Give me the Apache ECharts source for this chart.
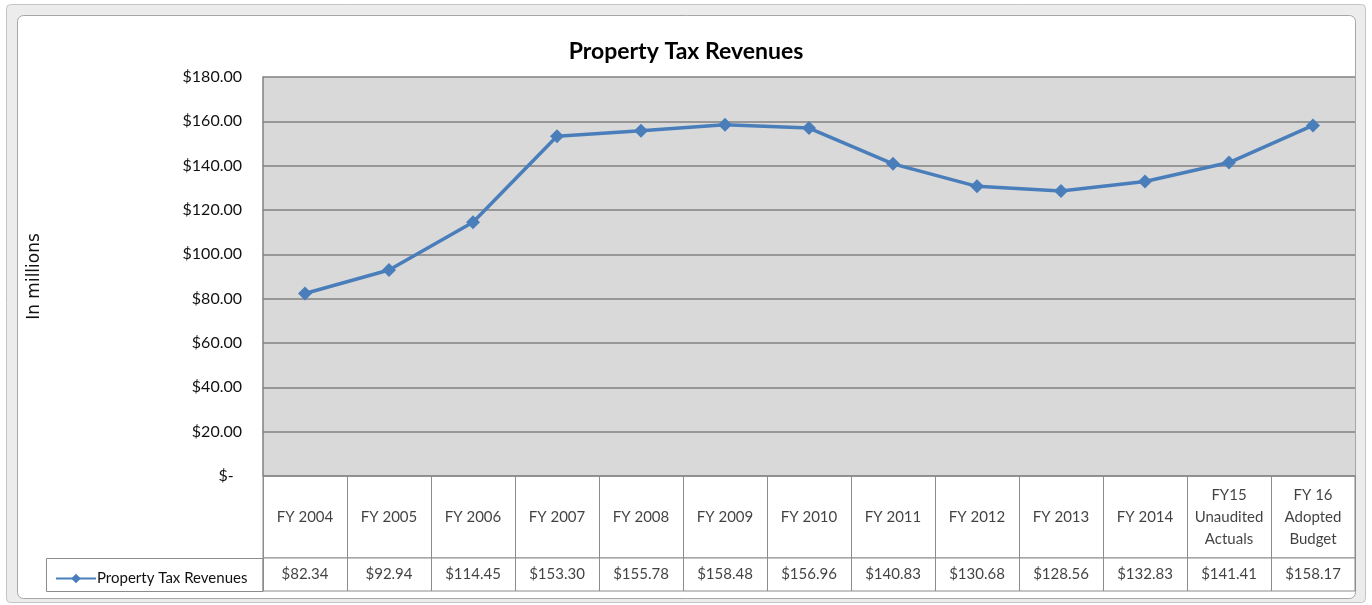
<!DOCTYPE html>
<html><head><meta charset="utf-8">
<script src="https://cdn.jsdelivr.net/npm/echarts@6/dist/echarts.min.js"></script>
<style>html,body{margin:0;padding:0;background:#fff}#c{width:1372px;height:605px}</style>
</head><body><div id="c"></div>
<script>
const title = 'Property Tax Revenues';
const seriesName = 'Property Tax Revenues';
const yAxisTitle = 'In millions';
const categories = ['FY 2004','FY 2005','FY 2006','FY 2007','FY 2008','FY 2009','FY 2010','FY 2011','FY 2012','FY 2013','FY 2014','FY15\nUnaudited\nActuals','FY 16\nAdopted\nBudget'];
const revenues = [82.34, 92.94, 114.45, 153.30, 155.78, 158.48, 156.96, 140.83, 130.68, 128.56, 132.83, 141.41, 158.17];
const yMin = 0, yMax = 180, yStep = 20;

const FONT = 'Lato';
const BLUE = '#4a7ebb';
const GRIDC = '#808080';
const TABLEC = '#8c8c8c';
const TXT = '#111';

const chart = echarts.init(document.getElementById('c'), null, {renderer: 'canvas'});
const option = {
  backgroundColor: '#fff',
  animation: false,
  title: {
    text: title, left: 'center', top: 35,
    textStyle: {fontFamily: FONT, fontSize: 23, fontWeight: 'bold', color: '#000'}
  },
  legend: {
    data: [seriesName], left: 50, top: 566, itemWidth: 40, itemHeight: 12, itemGap: 0,
    textStyle: {fontFamily: FONT, fontSize: 15, color: TXT, padding: [0,0,0,-4]}
  },
  graphic: [
    {type: 'rect', z: -20, shape: {x: 6.5, y: 4.5, width: 1359, height: 598, r: 4},
     style: {fill: '#ececec', stroke: '#c4c4c4', lineWidth: 1}},
    {type: 'rect', z: -19, shape: {x: 17.5, y: 15.5, width: 1338, height: 583, r: 6},
     style: {fill: '#fff', stroke: '#a6a6a6', lineWidth: 1}},
    {type: 'rect', z: 10, shape: {x: 46.5, y: 558.5, width: 216.5, height: 33},
     style: {fill: 'none', stroke: TABLEC, lineWidth: 1}}
  ],
  grid: [
    {left: 263, right: 17, top: 77, bottom: 129, show: true, backgroundColor: '#d9d9d9', borderWidth: 0, containLabel: false},
    {left: 263, right: 17, top: 476, height: 82, show: true, backgroundColor: '#fff', borderColor: TABLEC, borderWidth: 1},
    {left: 263, right: 17, top: 558, height: 33, show: true, backgroundColor: '#fff', borderColor: TABLEC, borderWidth: 1}
  ],
  xAxis: [
    {gridIndex: 0, type: 'category', data: categories, boundaryGap: true,
     axisLine: {show: false}, axisTick: {show: false}, axisLabel: {show: false}, splitLine: {show: false}},
    {gridIndex: 1, type: 'category', data: categories, boundaryGap: true,
     axisLine: {show: false}, axisTick: {show: false}, axisLabel: {show: false},
     splitLine: {show: true, interval: 0, lineStyle: {color: TABLEC, width: 1}}},
    {gridIndex: 2, type: 'category', data: categories, boundaryGap: true,
     axisLine: {show: false}, axisTick: {show: false}, axisLabel: {show: false},
     splitLine: {show: true, interval: 0, lineStyle: {color: TABLEC, width: 1}}}
  ],
  yAxis: [
    {gridIndex: 0, type: 'value', min: yMin, max: yMax, interval: yStep,
     name: yAxisTitle, nameLocation: 'middle', nameGap: 220, nameRotate: 90,
     nameTextStyle: {fontFamily: 'DejaVu Sans', fontSize: 17, color: TXT},
     axisLine: {show: true, lineStyle: {color: GRIDC, width: 1.5}},
     axisTick: {show: false},
     axisLabel: {margin: 21, fontFamily: FONT, fontSize: 16, color: TXT,
       formatter: v => v === 0 ? '$-  ' : '$' + v.toFixed(2)},
     splitLine: {show: true, lineStyle: {color: GRIDC, width: 1.5}}},
    {gridIndex: 1, type: 'category', data: ['c'], show: false},
    {gridIndex: 2, type: 'category', data: ['v'], show: false}
  ],
  series: [
    {name: seriesName, type: 'line', xAxisIndex: 0, yAxisIndex: 0, data: revenues,
     symbol: 'diamond', symbolSize: 14, lineStyle: {color: BLUE, width: 3.5},
     itemStyle: {color: BLUE}, z: 5},
    {name: 'cats', type: 'scatter', xAxisIndex: 1, yAxisIndex: 1, symbolSize: 0,
     data: categories.map(c => [c, 'c']),
     label: {show: true, position: 'inside', fontFamily: FONT, fontSize: 15, color: TXT,
       lineHeight: 22, align: 'center', verticalAlign: 'middle',
       formatter: p => categories[p.dataIndex]}},
    {name: 'vals', type: 'scatter', xAxisIndex: 2, yAxisIndex: 2, symbolSize: 0,
     data: categories.map(c => [c, 'v']),
     label: {show: true, position: 'inside', fontFamily: FONT, fontSize: 15, color: TXT,
       align: 'center', verticalAlign: 'middle',
       formatter: p => '$' + revenues[p.dataIndex].toFixed(2)}}
  ]
};
chart.setOption(option);
</script></body></html>
